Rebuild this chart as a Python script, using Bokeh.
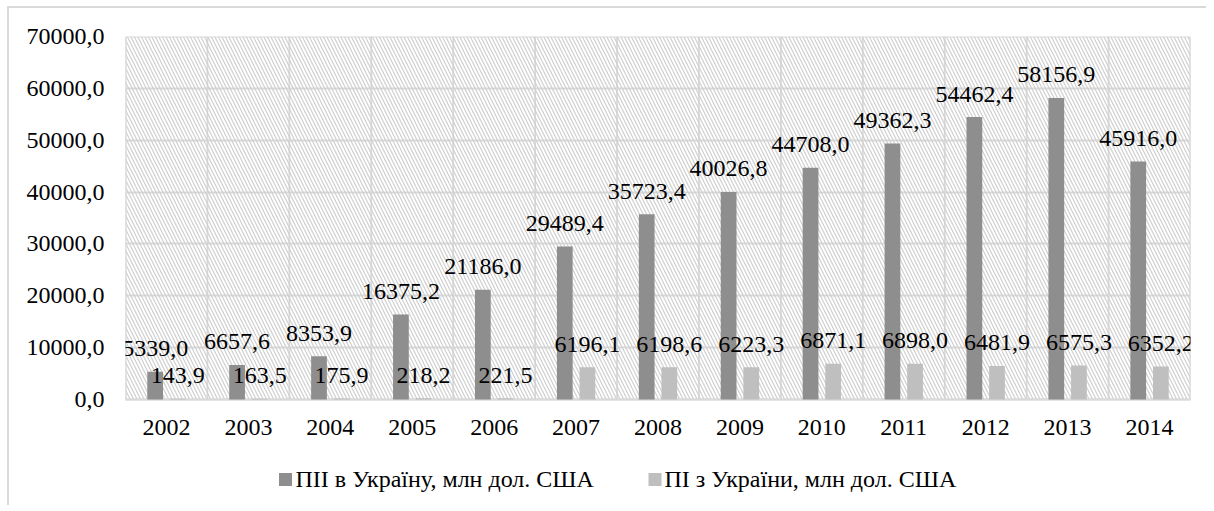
from bokeh.plotting import figure
from bokeh.models import ColumnDataSource, FixedTicker, Range1d
from bokeh.core.properties import value
from bokeh.embed import file_html
from bokeh.resources import INLINE

years = ["2002", "2003", "2004", "2005", "2006", "2007", "2008", "2009", "2010", "2011", "2012", "2013", "2014"]
fdi_in = [5339.0, 6657.6, 8353.9, 16375.2, 21186.0, 29489.4, 35723.4, 40026.8, 44708.0, 49362.3, 54462.4, 58156.9, 45916.0]
fdi_out = [143.9, 163.5, 175.9, 218.2, 221.5, 6196.1, 6198.6, 6223.3, 6871.1, 6898.0, 6481.9, 6575.3, 6352.2]
series_names = ["ПІІ в Україну, млн дол. США", "ПІ з України, млн дол. США"]
y_ticks = [0, 10000, 20000, 30000, 40000, 50000, 60000, 70000]

FONT = "'Liberation Serif', 'Times New Roman', 'DejaVu Serif', serif"
FS = "24px"
DARK = "#8e8e8e"
LIGHT = "#bfbfbf"
GRID = "#d9d9d9"

def fmt(v):
    return f"{v:.1f}".replace(".", ",")

n = len(years)
y_max = y_ticks[-1]
frame_w = 1065
plot_px = 363          # pixel height of the 0..70000 value area
below_px = 104         # room below the value area (year labels + legend)
y_min = -below_px * y_max / plot_px

def px_x(px):          # frame pixel offset -> x data units
    return px * n / frame_w

def px_y(px):          # pixels below the zero line -> y data units
    return -px * y_max / plot_px

centers = [i + 0.5 for i in range(n)]
off = 0.138
bw = 0.192

src = ColumnDataSource(dict(
    xc=centers,
    xd=[c - off for c in centers],
    xl=[c + off for c in centers],
    zero=[0] * n,
    yrs=years,
    fin=fdi_in,
    fout=fdi_out,
    lin=[fmt(v) for v in fdi_in],
    lout=[fmt(v) for v in fdi_out],
))

p = figure(frame_width=frame_w, frame_height=plot_px + below_px,
           min_border_left=116, min_border_right=16, min_border_top=28, min_border_bottom=2,
           x_range=Range1d(0, n), y_range=Range1d(y_min, y_max),
           x_axis_location=None,
           output_backend="svg", toolbar_location=None,
           styles={"margin-left": "7px", "margin-top": "6px",
                   "border-top": "2px solid #d9d9d9", "border-left": "2px solid #d9d9d9"})

p.outline_line_color = None
p.background_fill_color = "white"
p.xgrid.visible = False

p.ygrid.ticker = FixedTicker(ticks=y_ticks)
p.ygrid.grid_line_color = GRID
p.ygrid.grid_line_width = 1.8

# vertical category separators
bounds = list(range(n + 1))
p.segment(x0=bounds, y0=[0] * len(bounds), x1=bounds, y1=[y_max] * len(bounds),
          line_color=GRID, line_width=1.8)

# hatched plot area
p.quad(left=[0], right=[n], bottom=[0], top=[y_max], fill_color=None,
       line_color=GRID, line_width=1.8,
       hatch_pattern="\\", hatch_color="#cfcfcf", hatch_scale=7, hatch_weight=1.2)

p.vbar(x="xd", top="fin", width=bw, source=src, fill_color=DARK, line_color=None)
p.vbar(x="xl", top="fout", width=bw, source=src, fill_color=LIGHT, line_color=None)

p.text(x="xd", y="fin", text="lin", source=src, text_font=value(FONT), text_font_size=FS,
       text_align="center", text_baseline="alphabetic", y_offset=-23, text_color="black")
p.text(x="xl", y="fout", text="lout", source=src, text_font=value(FONT), text_font_size=FS,
       text_align="center", text_baseline="alphabetic", y_offset=-23, text_color="black")

# category labels under the value area
p.text(x="xc", y="zero", text="yrs", source=src, text_font=value(FONT), text_font_size=FS,
       text_align="center", text_baseline="alphabetic", y_offset=28, text_color="black")

# legend (keys + labels) below the category labels
leg_src = ColumnDataSource(dict(
    kx=[px_x(160), px_x(529.5)],
    ky=[px_y(80), px_y(80)],
    kc=[DARK, LIGHT],
    tx=[px_x(170), px_x(539)],
    ty=[0, 0],
    label=series_names,
))
p.scatter(x="kx", y="ky", marker="square", size=13, fill_color="kc", line_color=None,
          source=leg_src)
p.text(x="tx", y="ty", text="label", source=leg_src, text_font=value(FONT), text_font_size=FS,
       text_align="left", text_baseline="alphabetic", y_offset=79, text_color="black")

p.yaxis.ticker = FixedTicker(ticks=y_ticks)
p.yaxis.major_label_overrides = {t: fmt(t) for t in y_ticks}
p.yaxis.axis_line_color = None
p.yaxis.major_tick_line_color = None
p.yaxis.minor_tick_line_color = None
p.yaxis.major_tick_out = 0
p.yaxis.major_tick_in = 0
p.yaxis.major_label_text_font = FONT
p.yaxis.major_label_text_font_size = FS
p.yaxis.major_label_text_color = "black"
p.yaxis.major_label_standoff = 21

open("out.html", "w").write(file_html(p, INLINE))
